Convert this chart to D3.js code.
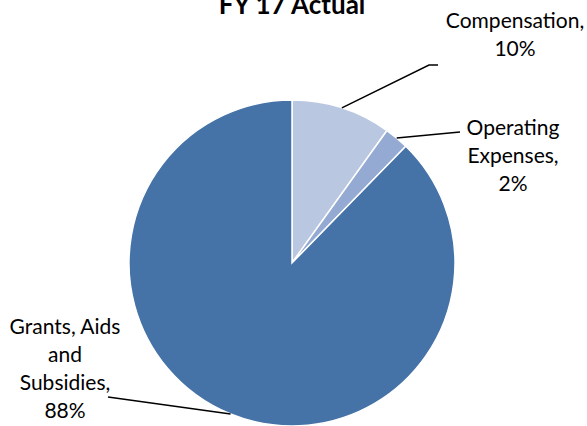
<!DOCTYPE html>
<html>
<head>
<meta charset="utf-8">
<script src="https://cdn.jsdelivr.net/npm/d3@7"></script>
<style>
  body { margin: 0; background: #fff; }
  text { font-family: Lato, "Open Sans", sans-serif; fill: #000; }
</style>
</head>
<body>
<div class="graph"></div>
<script>
// chart values
var categories = ["Compensation", "Operating Expenses", "Grants, Aids and Subsidies"];
var shares = [9.9, 2.4, 87.7];
var labelLines = [
    ["Compensation,"],
    ["Operating", "Expenses,"],
    ["Grants, Aids", "and", "Subsidies,"]
];
var title = "FY 17 Actual";

var width = 587, height = 426;
var radius = 163;
var cx = 292, cy = 263;

var colors = ["#b9c7e1", "#94aad3", "#4572a7"];

// where each label sits and where its leader line ends (relative to the pie centre)
var labelPos = [
    {x: 223, y: -235, lineEnd: [[137, -198], [146, -198]]},
    {x: 221, y: -128, lineEnd: [[168, -131]]},
    {x: -227, y: 71, lineEnd: [[-184, 134]]}
];

var svg = d3.select(".graph").append("svg")
    .attr("width", width)
    .attr("height", height);

svg.append("text")
    .attr("x", cx)
    .attr("y", 14)
    .attr("text-anchor", "middle")
    .style("font-size", "26px")
    .style("font-weight", "bold")
    .text(title);

var g = svg.append("g")
    .attr("transform", "translate(" + cx + "," + cy + ")");

var data = categories.map(function(c, i) { return {name: c, value: shares[i]}; });
var total = d3.sum(shares);

var pie = d3.pie()
    .sort(null)
    .value(function(d) { return d.value; });

var arc = d3.arc().innerRadius(0).outerRadius(radius);
// used only for the start of the leader lines
var edgeArc = d3.arc().innerRadius(radius * 2 - 1).outerRadius(1);

var arcs = pie(data);

g.selectAll(".slice")
    .data(arcs)
    .enter().append("path")
    .attr("class", "slice")
    .attr("d", arc)
    .attr("fill", function(d, i) { return colors[i]; })
    .attr("stroke", "#fff")
    .attr("stroke-width", 1.5);

// leader lines
g.selectAll(".leader")
    .data(arcs)
    .enter().append("polyline")
    .attr("class", "leader")
    .attr("fill", "none")
    .attr("stroke", "#000")
    .attr("stroke-width", 1.5)
    .attr("points", function(d, i) {
        var start = edgeArc.centroid(d);
        return [start].concat(labelPos[i].lineEnd).join(" ");
    });

// labels
var fmt = d3.format(".0%");
var lineHeight = 28;

var labels = g.selectAll(".label")
    .data(arcs)
    .enter().append("text")
    .attr("class", "label")
    .attr("text-anchor", "middle")
    .style("font-size", "21px")
    .attr("transform", function(d, i) {
        return "translate(" + labelPos[i].x + "," + labelPos[i].y + ")";
    });

labels.each(function(d, i) {
    var lines = labelLines[i].concat([fmt(d.data.value / total)]);
    d3.select(this).selectAll("tspan")
        .data(lines)
        .enter().append("tspan")
        .attr("x", 0)
        .attr("dy", function(t, j) { return j === 0 ? 0 : lineHeight; })
        .text(function(t) { return t; });
});
</script>
</body>
</html>
